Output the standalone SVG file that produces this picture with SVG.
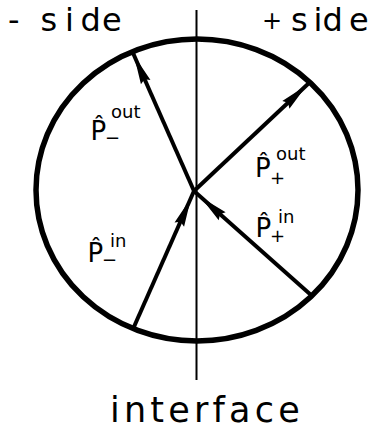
<svg xmlns="http://www.w3.org/2000/svg" width="375" height="430" viewBox="0 0 375 430">
<style>
.t{font-family:"DejaVu Sans","Liberation Sans",sans-serif;fill:#000}
.big{font-size:32px}
.lab{font-size:26px}
.sup{font-size:18px}
.ln{stroke:#000;fill:none;stroke-linecap:butt}
</style>
<defs>
<polygon id="ah" points="0,0 -29,-5.2 -26,0 -29,5.2" fill="#000"/>
</defs>
<rect width="375" height="430" fill="#fff"/>
<g id="interface-line">
<line class="ln" x1="196.5" y1="10" x2="196.5" y2="380" stroke-width="2"/>
</g>
<g id="circle">
<ellipse class="ln" cx="197" cy="190" rx="161" ry="151" stroke-width="5.5"/>
</g>
<g id="connectors">
<line class="ln" x1="194" y1="191" x2="133" y2="53" stroke-width="4"/>
<use href="#ah" transform="translate(134,55.5) rotate(-113.8)"/>
<line class="ln" x1="194" y1="191" x2="309" y2="83" stroke-width="4"/>
<use href="#ah" transform="translate(307,85) rotate(-43.2)"/>
<line class="ln" x1="311" y1="295" x2="194" y2="191" stroke-width="4"/>
<use href="#ah" transform="translate(200.5,197) rotate(-138.4)"/>
<line class="ln" x1="133" y1="329" x2="194" y2="191" stroke-width="4"/>
<use href="#ah" transform="translate(191,198) rotate(-66.2)"/>
</g>
<g id="minus-side">
<text class="t big" y="31"><tspan x="8">-</tspan><tspan x="40.5 65 80.5 102">side</tspan></text>
</g>
<g id="plus-side">
<text class="t big" y="31"><tspan x="262" y="29" style="font-size:24px">+</tspan><tspan x="291 313.5 322.5 349" y="31">side</tspan></text>
</g>
<g id="interface">
<text class="t" x="110" y="422" style="font-size:35px;letter-spacing:4.2px">interface</text>
</g>
<g id="p-minus-out">
<text class="t lab" x="90.5" y="140">P̂</text>
<text class="t sup" x="105" y="144">−</text>
<text class="t sup" x="111" y="118">out</text>
</g>
<g id="p-minus-in">
<text class="t lab" x="87.5" y="262">P̂</text>
<text class="t sup" x="102" y="266">−</text>
<text class="t sup" x="110" y="247">in</text>
</g>
<g id="p-plus-out">
<text class="t lab" x="255" y="177">P̂</text>
<text class="t sup" x="270" y="183.5">+</text>
<text class="t sup" x="276" y="160">out</text>
</g>
<g id="p-plus-in">
<text class="t lab" x="255.5" y="237">P̂</text>
<text class="t sup" x="270" y="242">+</text>
<text class="t sup" x="278" y="223">in</text>
</g>
</svg>
